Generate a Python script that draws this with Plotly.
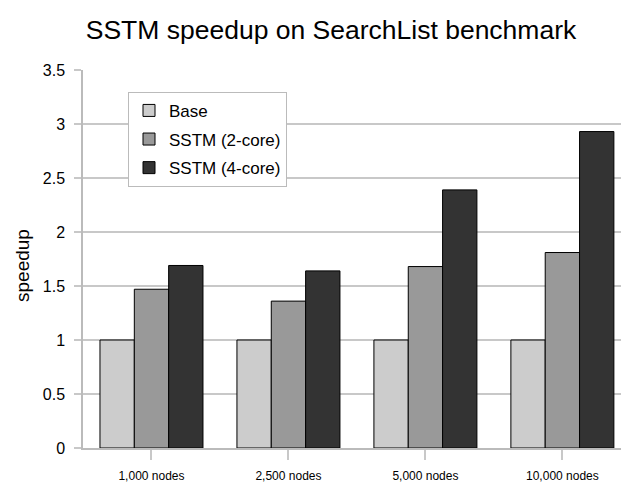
import plotly.graph_objects as go

categories = ["1,000 nodes", "2,500 nodes", "5,000 nodes", "10,000 nodes"]
series_names = ["Base", "SSTM (2-core)", "SSTM (4-core)"]
base = [1.0, 1.0, 1.0, 1.0]
sstm_2core = [1.47, 1.36, 1.68, 1.81]
sstm_4core = [1.69, 1.64, 2.39, 2.93]
colors = ["#cccccc", "#999999", "#333333"]
y_ticks = [0, 0.5, 1, 1.5, 2, 2.5, 3, 3.5]
y_tick_labels = ["0", "0.5", "1", "1.5", "2", "2.5", "3", "3.5"]

W, H = 621, 483
L, T, B, R = 83, 70, 33, 0
FONT = "Liberation Sans, Arial, sans-serif"

fig = go.Figure()
for i, (name, vals) in enumerate(zip(series_names, [base, sstm_2core, sstm_4core])):
    fig.add_trace(go.Bar(
        x=categories, y=vals, name=name,
        marker=dict(color=colors[i], line=dict(color="#000000", width=1)),
        legendgroup=name,
    ))

fig.update_layout(
    width=W, height=H,
    margin=dict(l=L, r=R, t=T, b=B, pad=0),
    paper_bgcolor="white", plot_bgcolor="white",
    barmode="group", bargap=0.248, bargroupgap=0,
    font=dict(family=FONT, color="#000000"),
    title=dict(text="SSTM speedup on SearchList benchmark",
               font=dict(family=FONT, size=26.5, color="#000"),
               x=331 / W, xref="container", xanchor="center",
               y=1 - 30 / H, yref="container", yanchor="middle"),
    legend=dict(x=(128 - L) / (W - L - R), y=(H - B - 92) / (H - T - B),
                xanchor="left", yanchor="top",
                bgcolor="white", bordercolor="#bbbbbb", borderwidth=1,
                font=dict(size=17, family=FONT),
                traceorder="grouped", tracegroupgap=3.5),
    showlegend=True,
)
fig.update_xaxes(
    type="category", range=[-0.5, 3.428],
    showgrid=False, showline=True, linecolor="#bbbbbb", linewidth=1.5,
    ticks="outside", ticklen=10, tickcolor="#c8c8c8", tickwidth=1.5,
    tickfont=dict(family=FONT, size=12),
    ticklabelstandoff=6,
)
fig.update_yaxes(
    range=[0, 3.5], tickvals=y_ticks, ticktext=y_tick_labels,
    showgrid=True, gridcolor="#c8c8c8", gridwidth=1.5,
    showline=True, linecolor="#bbbbbb", linewidth=1.5,
    ticks="outside", ticklen=7, tickcolor="#c8c8c8", tickwidth=1.5,
    tickfont=dict(size=16), zeroline=False,
    ticklabelstandoff=6,
)
fig.add_annotation(text="speedup", textangle=-90,
                   x=(23 - L) / (W - L - R), y=(H - B - 267) / (H - T - B),
                   xref="paper", yref="paper", showarrow=False,
                   font=dict(size=19), xanchor="center", yanchor="middle")

fig.write_html("out.html")
